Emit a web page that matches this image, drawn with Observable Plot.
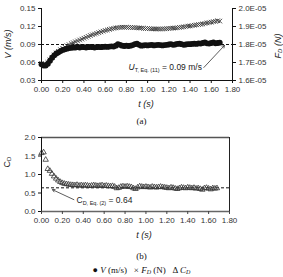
<!DOCTYPE html>
<html><head><meta charset="utf-8">
<script src="https://cdn.jsdelivr.net/npm/d3@7"></script>
<script src="https://cdn.jsdelivr.net/npm/@observablehq/plot@0.6"></script>
<style>
body{margin:0;background:#fff;}
#fig{position:relative;width:283px;height:277px;overflow:hidden;font-family:"Liberation Sans",Arial,sans-serif;color:#222;}
.panel{position:absolute;left:0;}
.cap{position:absolute;left:0;width:283px;text-align:center;font-family:"Liberation Serif","Times New Roman",serif;font-size:9px;line-height:10px;color:#111;}
.ttl{position:absolute;white-space:nowrap;font-size:9px;line-height:10px;transform:translate(-50%,-50%);}
.rot{transform:translate(-50%,-50%) rotate(-90deg);}
sub{font-size:6px;vertical-align:-1px;}
</style></head>
<body><div id="fig"></div>
<script>
// Sampling times (s)
const time = [0.00,0.02,0.04,0.06,0.08,0.10,0.12,0.14,0.16,0.18,0.20,0.22,0.24,0.26,0.28,0.30,0.32,0.34,0.36,0.38,0.40,0.42,0.44,0.46,0.48,0.50,0.52,0.54,0.56,0.58,0.60,0.62,0.64,0.66,0.68,0.70,0.72,0.74,0.76,0.78,0.80,0.82,0.84,0.86,0.88,0.90,0.92,0.94,0.96,0.98,1.00,1.02,1.04,1.06,1.08,1.10,1.12,1.14,1.16,1.18,1.20,1.22,1.24,1.26,1.28,1.30,1.32,1.34,1.36,1.38,1.40,1.42,1.44,1.46,1.48,1.50,1.52,1.54,1.56,1.58,1.60,1.62,1.64,1.66,1.68];
// Particle velocity V (m/s)
const velocity = [0.057,0.055,0.055,0.058,0.063,0.068,0.072,0.075,0.077,0.079,0.081,0.082,0.083,0.084,0.0845,0.085,0.085,0.0855,0.085,0.086,0.0855,0.085,0.0855,0.086,0.0855,0.085,0.0855,0.086,0.0855,0.086,0.0865,0.086,0.0865,0.087,0.0865,0.088,0.0905,0.0895,0.088,0.0875,0.088,0.0875,0.088,0.089,0.0905,0.0915,0.0895,0.088,0.0885,0.089,0.0885,0.089,0.0895,0.0885,0.089,0.0895,0.089,0.0885,0.089,0.0895,0.090,0.0905,0.0895,0.090,0.091,0.0915,0.0905,0.0895,0.090,0.0905,0.0905,0.091,0.0915,0.091,0.092,0.0915,0.0925,0.0935,0.092,0.0915,0.0925,0.0935,0.092,0.0925,0.093];
// Drag force F_D (×1E-05 N)
const dragForce = [1.694,1.688,1.690,1.700,1.715,1.728,1.742,1.753,1.762,1.771,1.779,1.786,1.793,1.799,1.805,1.810,1.815,1.820,1.825,1.830,1.835,1.840,1.845,1.850,1.854,1.858,1.862,1.866,1.870,1.874,1.878,1.881,1.884,1.887,1.890,1.892,1.894,1.895,1.896,1.896,1.896,1.895,1.895,1.894,1.894,1.893,1.892,1.891,1.890,1.889,1.889,1.888,1.887,1.887,1.886,1.886,1.886,1.887,1.887,1.888,1.889,1.890,1.891,1.892,1.893,1.895,1.896,1.898,1.900,1.902,1.903,1.905,1.907,1.909,1.911,1.912,1.914,1.917,1.920,1.922,1.924,1.927,1.929,1.932,1.930];
// Drag coefficient C_D
const dragCoef = [1.58,1.60,1.40,1.15,1.10,1.02,0.95,0.89,0.84,0.80,0.77,0.75,0.74,0.73,0.72,0.715,0.71,0.72,0.70,0.71,0.70,0.71,0.70,0.69,0.70,0.71,0.70,0.69,0.70,0.71,0.69,0.70,0.69,0.68,0.69,0.67,0.63,0.64,0.67,0.68,0.67,0.68,0.67,0.66,0.63,0.61,0.65,0.68,0.67,0.66,0.67,0.66,0.65,0.67,0.66,0.65,0.66,0.67,0.66,0.65,0.64,0.63,0.65,0.64,0.62,0.61,0.63,0.65,0.64,0.63,0.65,0.64,0.63,0.64,0.62,0.63,0.61,0.59,0.63,0.64,0.62,0.60,0.63,0.62,0.63];

const xTicks = [0,0.2,0.4,0.6,0.8,1.0,1.2,1.4,1.6,1.8];
const vTicks = [0.03,0.06,0.09,0.12,0.15];
const fTicks = [1.6,1.7,1.8,1.9,2.0];   // ×1E-05 N
const cTicks = [0,0.5,1.0,1.5,2.0];
const terminalVelocity = 0.09;   // U_T from Eq. (11)
const dragCoefEq = 0.64;         // C_D from Eq. (2)

// Secondary (force) axis shares the velocity scale: 1.6E-05..2.0E-05 N ↔ 0.03..0.15 m/s
const fToV = f => 0.03 + (f - 1.6) / 0.4 * 0.12;
const vToF = v => 1.6 + (v - 0.03) / 0.12 * 0.4;

const rows = time.map((t, i) => ({t, v: velocity[i], f: fToV(dragForce[i]), c: dragCoef[i]}));
const fmt2 = d3.format(".2f");
const style = {fontFamily: "'Liberation Sans', Arial, sans-serif", fontSize: "8px", color: "#333", background: "transparent", overflow: "visible"};

const plotA = Plot.plot({
  width: 283, height: 112,
  marginLeft: 41, marginRight: 51, marginTop: 8, marginBottom: 32,
  x: {domain: [0, 1.8], axis: null},
  y: {domain: [0.03, 0.15], axis: null},
  style,
  marks: [
    Plot.ruleY([terminalVelocity], {stroke: "#111", strokeDasharray: "3,2"}),
    Plot.dot(rows, {x: "t", y: "f", symbol: "times", r: 2.2, stroke: "#444", strokeWidth: 1}),
    Plot.dot(rows, {x: "t", y: "v", r: 2.9, fill: "#111", stroke: "none"}),
    Plot.ruleX([0], {stroke: "#111"}),
    Plot.ruleX([1.8], {stroke: "#111"}),
    Plot.ruleY([0.03], {stroke: "#111"}),
    Plot.axisX(xTicks, {tickFormat: fmt2, tickSize: 3, tickPadding: 3, label: null, stroke: "#111"}),
    Plot.axisY(vTicks, {anchor: "left", tickFormat: fmt2, tickSize: 3, tickPadding: 3, label: null, stroke: "#111"}),
    Plot.axisY(fTicks.map(fToV), {anchor: "right", tickFormat: v => vToF(v).toFixed(1) + "E-05", tickSize: 3, tickPadding: 3, label: null, stroke: "#111"}),
    Plot.arrow([{x1: 1.53, y1: 0.0517, x2: 1.725, y2: 0.0885}], {x1: "x1", y1: "y1", x2: "x2", y2: "y2", stroke: "#333", strokeWidth: 0.8, headLength: 5}),
    Plot.text(["UT"], {x: 0.82, y: 0.0517, text: d => d, textAnchor: "start", fontSize: 8.5, fill: "#222", className: "note-a"})
  ]
});

const plotB = Plot.plot({
  width: 283, height: 110,
  marginLeft: 41, marginRight: 54, marginTop: 7, marginBottom: 29,
  x: {domain: [0, 1.8], axis: null},
  y: {domain: [0, 2], axis: null},
  style,
  marks: [
    Plot.ruleY([dragCoefEq], {stroke: "#111", strokeDasharray: "3,2"}),
    Plot.dot(rows, {x: "t", y: "c", symbol: "triangle", r: 2.0, stroke: "#333", strokeWidth: 0.8, fill: "none"}),
    Plot.ruleY([2], {stroke: "#555", strokeWidth: 1.5}),
    Plot.ruleX([1.8], {stroke: "#222"}),
    Plot.ruleX([0], {stroke: "#111"}),
    Plot.ruleY([0], {stroke: "#666", strokeWidth: 1.3}),
    Plot.axisX(xTicks, {tickFormat: fmt2, tickSize: 3, tickPadding: 3, label: null, stroke: "#444"}),
    Plot.axisY(cTicks, {anchor: "left", tickFormat: d3.format(".1f"), tickSize: 3, tickPadding: 3, label: null, stroke: "#111"}),
    Plot.arrow([{x1: 0.31, y1: 0.32, x2: 0.105, y2: 0.59}], {x1: "x1", y1: "y1", x2: "x2", y2: "y2", stroke: "#333", strokeWidth: 0.8, headLength: 5}),
    Plot.text(["CD"], {x: 0.335, y: 0.30, text: d => d, textAnchor: "start", fontSize: 8.5, fill: "#222", className: "note-b"})
  ]
});

// Rich text (subscripts) for the in-plot notes
d3.select(plotA).select(".note-a text").html(
  `<tspan font-style="italic">U</tspan><tspan font-size="5.5" dy="2">T, Eq. (11)</tspan><tspan dy="-2"> = ${terminalVelocity.toFixed(2)} m/s</tspan>`);
d3.select(plotB).select(".note-b text").html(
  `<tspan>C</tspan><tspan font-size="5.5" dy="2">D, Eq. (2)</tspan><tspan dy="-2"> = ${dragCoefEq.toFixed(2)}</tspan>`);

const fig = document.getElementById("fig");
plotA.classList.add("panel"); plotA.style.top = "0px";
plotB.classList.add("panel"); plotB.style.top = "130px";
fig.append(plotA, plotB);

function addHTML(cls, x, y, html) {
  const d = document.createElement("div");
  d.className = cls;
  d.style.left = x + "px"; d.style.top = y + "px";
  d.innerHTML = html;
  fig.append(d);
  return d;
}
// Axis titles
addHTML("ttl rot", 8, 44, "<i>V (m/s)</i>");
addHTML("ttl rot", 279, 46, "<i>F<sub>D</sub> (N)</i>");
addHTML("ttl", 146, 104, "<i>t (s)</i>");
addHTML("ttl rot", 8, 162, "C<sub>D</sub>");
addHTML("ttl", 144, 235, "<i>t (s)</i>");
// Panel captions and legend
addHTML("cap", 0, 116, "(a)");
addHTML("cap", 0, 251, "(b)");
addHTML("cap", 0, 265, "● <i>V</i> (m/s)&nbsp;&nbsp;&nbsp;× <i>F<sub>D</sub></i> (N)&nbsp;&nbsp;&nbsp;Δ <i>C<sub>D</sub></i>");
</script>
</body></html>
